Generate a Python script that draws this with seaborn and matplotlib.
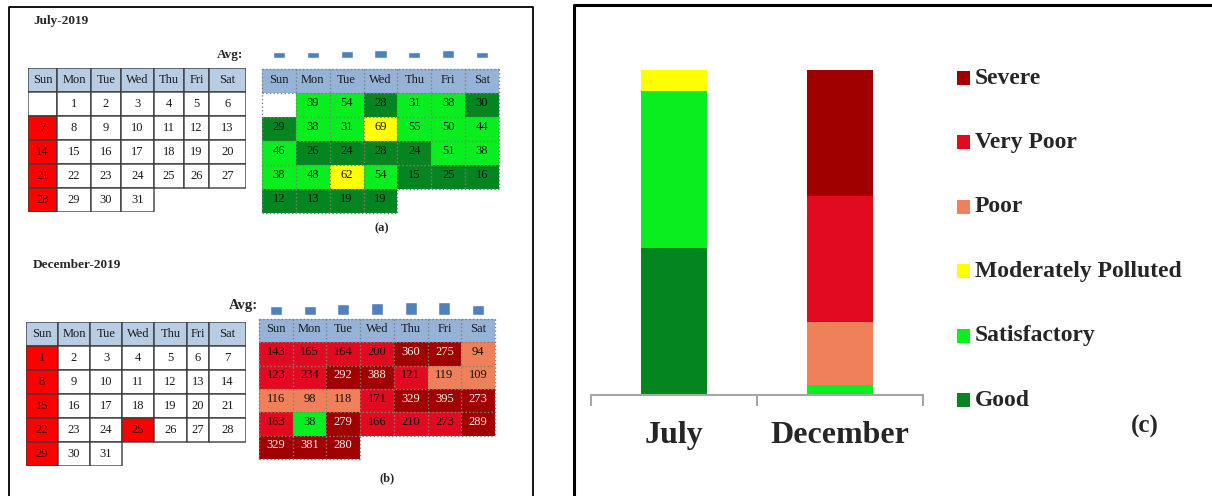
import numpy as np
import matplotlib
matplotlib.use("Agg")
import matplotlib.pyplot as plt
import seaborn as sns
from matplotlib.colors import ListedColormap
from matplotlib.patches import Rectangle

# ================= DATA =================
nan = np.nan
days = ["Sun", "Mon", "Tue", "Wed", "Thu", "Fri", "Sat"]
categories = ["Good", "Satisfactory", "Moderately Polluted", "Poor", "Very Poor", "Severe"]
cat_colors = ["#058520", "#08ee1e", "#ffff00", "#f0805a", "#e20a20", "#a00000"]

july_weeks = [[nan, 1, 2, 3, 4, 5, 6],
              [7, 8, 9, 10, 11, 12, 13],
              [14, 15, 16, 17, 18, 19, 20],
              [21, 22, 23, 24, 25, 26, 27],
              [28, 29, 30, 31, nan, nan, nan]]
july_red_days = [7, 14, 21, 28]

dec_weeks = [[1, 2, 3, 4, 5, 6, 7],
             [8, 9, 10, 11, 12, 13, 14],
             [15, 16, 17, 18, 19, 20, 21],
             [22, 23, 24, 25, 26, 27, 28],
             [29, 30, 31, nan, nan, nan, nan]]
dec_red_days = [1, 8, 15, 22, 25, 29]

july_aqi = [[nan, 39, 54, 28, 31, 38, 30],
            [29, 38, 31, 69, 55, 50, 44],
            [46, 26, 24, 28, 24, 51, 38],
            [38, 48, 62, 54, 15, 25, 16],
            [12, 13, 19, 19, nan, nan, nan]]
# category index into `categories`
july_cat = [[nan, 1, 1, 0, 1, 1, 0],
            [0, 1, 1, 2, 1, 1, 1],
            [1, 0, 0, 0, 0, 1, 1],
            [1, 1, 2, 1, 0, 0, 0],
            [0, 0, 0, 0, nan, nan, nan]]

dec_aqi = [[143, 165, 164, 200, 360, 275, 94],
           [123, 234, 292, 388, 121, 119, 109],
           [116, 98, 118, 171, 329, 395, 273],
           [163, 38, 279, 166, 210, 273, 289],
           [329, 381, 280, nan, nan, nan, nan]]
dec_cat = [[4, 4, 4, 4, 5, 5, 3],
           [4, 4, 5, 5, 4, 3, 3],
           [3, 3, 3, 4, 5, 5, 5],
           [4, 1, 5, 4, 4, 4, 5],
           [5, 5, 5, nan, nan, nan, nan]]

months = ["July", "December"]
july_counts = [14, 15, 2, 0, 0, 0]
dec_counts = [0, 1, 0, 6, 12, 12]

# ================= STYLE =================
sns.set_style("white")
plt.rcParams["font.family"] = ["Liberation Serif", "DejaVu Serif"]

W, H = 1212, 496
fig = plt.figure(figsize=(W / 100, H / 100), dpi=100)


def px_axes(x0, y0, x1, y1):
    return fig.add_axes([x0 / W, 1 - y1 / H, (x1 - x0) / W, (y1 - y0) / H])


# overlay in pixel coords for frames, titles and legend
ov = px_axes(0, 0, W, H)
ov.set_xlim(0, W)
ov.set_ylim(H, 0)
ov.axis("off")
ov.plot([9, 9, 533, 533], [H, 7, 7, H], color="k", lw=1.3)
ov.plot([574, 574, W], [H, 5, 5], color="k", lw=2.2)


def draw_calendar(xedges, top, weeks, red_days):
    weeks = np.array(weeks, dtype=float)
    nrow = weeks.shape[0] + 1
    ax = px_axes(xedges[0], top, xedges[-1], top + 24 * nrow)
    yedges = top + 24 * np.arange(nrow + 1)
    C = np.zeros((nrow, 7))
    C[0] = 2
    C[1:][np.isin(weeks, red_days)] = 1
    mask = np.zeros_like(C, dtype=bool)
    mask[-1] = np.isnan(weeks[-1])
    C = np.ma.array(C, mask=mask)
    ax.pcolor(xedges, yedges, C, cmap=ListedColormap(["white", "#ff0000", "#b8cce4"]),
              vmin=-0.5, vmax=2.5, edgecolors="#3c3c3c", linewidth=1)
    ax.set_xlim(xedges[0], xedges[-1])
    ax.set_ylim(yedges[-1], yedges[0])
    ax.axis("off")
    xc = (np.array(xedges[:-1]) + np.array(xedges[1:])) / 2
    for j, d in enumerate(days):
        ax.text(xc[j], yedges[0] + 12, d, ha="center", va="center", fontsize=9, color="#1a1a1a")
    for i, row in enumerate(weeks):
        for j, v in enumerate(row):
            if np.isnan(v):
                continue
            col = "#3a0000" if v in red_days else "#1a1a1a"
            ax.text(xc[j], yedges[i + 1] + 12, f"{int(v)}", ha="center", va="center",
                    fontsize=9, color=col)


def draw_aqi(box, aqi, cat):
    x0, y0, x1, y1 = box
    aqi = np.array(aqi, dtype=float)
    cat = np.array(cat, dtype=float)
    grid = np.vstack([np.full(7, 6.0), cat])
    grid[1][np.isnan(grid[1])] = 7  # leading blank day -> white
    mask = np.isnan(grid)
    ax = px_axes(x0, y0, x1, y1)
    cmap = ListedColormap(cat_colors + ["#95b3d7", "white"])
    sns.heatmap(grid, mask=mask, cmap=cmap, vmin=-0.5, vmax=7.5, cbar=False, ax=ax,
                xticklabels=False, yticklabels=False)
    n_last = int(np.sum(~np.isnan(aqi[-1])))
    nr = grid.shape[0]
    kw = dict(colors="#808080", linestyles=":", lw=1, clip_on=False)
    ax.hlines(range(0, nr), 0, 7, **kw)
    ax.hlines(nr, 0, n_last, **kw)
    ax.vlines(range(8), 0, nr - 1, **kw)
    ax.vlines(range(n_last + 1), nr - 1, nr, **kw)
    for j, d in enumerate(days):
        ax.text(j + 0.5, 0.45, d, ha="center", va="center", fontsize=9, color="#1a1a1a")
    for i in range(aqi.shape[0]):
        for j in range(7):
            if np.isnan(aqi[i, j]):
                continue
            col = "#f4f4f4" if cat[i, j] == 5 else "#111111"
            ax.text(j + 0.5, i + 1.42, f"{int(aqi[i, j])}", ha="center", va="center",
                    fontsize=9, color=col)
    return ax


def draw_avg(box, aqi, ymax):
    ax = px_axes(*box)
    avg = np.nanmean(np.array(aqi, dtype=float), axis=0)
    sns.barplot(x=days, y=avg, color="#4f81bd", saturation=1, width=0.36, ax=ax)
    ax.set_xlim(-0.5, 6.5)
    ax.set_ylim(0, ymax)
    ax.axis("off")


# ---- (a) July ----
ov.text(33, 21, "July-2019", fontsize=9.5, fontweight="bold", va="center")
ov.text(243, 55, "Avg:", fontsize=9.5, fontweight="bold", va="center", ha="right")
draw_calendar([28, 57, 91, 121, 154, 184, 209, 246], 68, july_weeks, july_red_days)
draw_aqi((262, 69, 499, 213), july_aqi, july_cat)
draw_avg((262, 38, 499, 58), july_aqi, 105)
ov.text(382, 228, "(a)", fontsize=9, fontweight="bold", ha="center", va="center")

# ---- (b) December ----
ov.text(33, 265, "December-2019", fontsize=9.5, fontweight="bold", va="center")
ov.text(258, 305, "Avg:", fontsize=10.5, fontweight="bold", va="center", ha="right")
draw_calendar([26, 58, 90, 122, 154, 187, 209, 246], 322, dec_weeks, dec_red_days)
draw_aqi((259, 319, 495, 459), dec_aqi, dec_cat)
draw_avg((259, 295, 495, 315), dec_aqi, 400)
ov.text(387, 478, "(b)", fontsize=9, fontweight="bold", ha="center", va="center")

# ---- (c) stacked day counts ----
ax_c = px_axes(591, 70, 923, 395)
cum_july = np.cumsum(july_counts)
cum_dec = np.cumsum(dec_counts)
for k in range(len(categories) - 1, -1, -1):
    sns.barplot(x=months, y=[cum_july[k], cum_dec[k]], color=cat_colors[k], saturation=1,
                width=0.4, errorbar=None, linewidth=0, ax=ax_c)
ax_c.set_xlim(-0.5, 1.5)
ax_c.set_ylim(0, 31)
ax_c.set_xlabel("")
ax_c.set_ylabel("")
ax_c.set_yticks([])
ax_c.set_xticks([0, 1])
ax_c.set_xticklabels(months, fontsize=23, fontweight="bold")
ax_c.set_xticks([-0.5, 0.5, 1.5], minor=True)
ax_c.tick_params(axis="x", which="major", length=0, pad=19)
ax_c.tick_params(axis="x", which="minor", bottom=True, length=8, width=1.5, color="#a6a6a6")
for s in ["top", "right", "left"]:
    ax_c.spines[s].set_visible(False)
ax_c.spines["bottom"].set_color("#a6a6a6")
ax_c.spines["bottom"].set_linewidth(1.5)
ax_c.patch.set_alpha(0)

# legend, Severe on top
for i, k in enumerate(range(len(categories) - 1, -1, -1)):
    yc = 78 + i * 64.4
    ov.add_patch(Rectangle((957, yc - 7), 13, 14, color=cat_colors[k], lw=0))
    ov.text(975, yc, categories[k], fontsize=17, fontweight="bold", va="center", ha="left")
ov.text(1145, 426, "(c)", fontsize=18, fontweight="bold", va="center", ha="center")

fig.savefig("out.png", dpi=100)
